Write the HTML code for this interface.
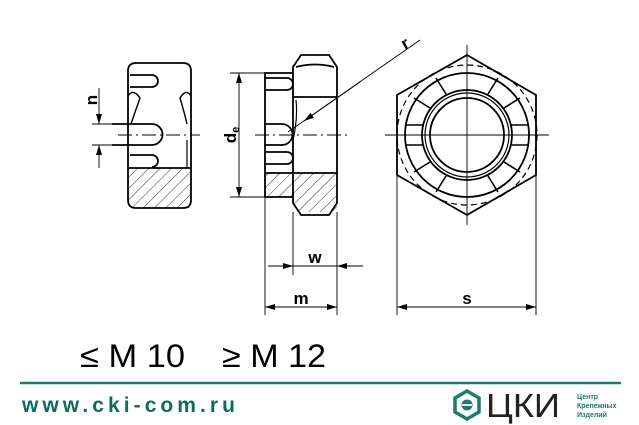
<!DOCTYPE html>
<html><head><meta charset="utf-8"><style>
html,body{margin:0;padding:0;background:#fff;width:639px;height:425px;overflow:hidden}
</style></head><body>
<svg width="639" height="425" viewBox="0 0 639 425" xmlns="http://www.w3.org/2000/svg" font-family="Liberation Sans, sans-serif">
<defs>
<pattern id="h" patternUnits="userSpaceOnUse" width="8" height="8" patternTransform="rotate(45)">
<line x1="0" y1="0" x2="0" y2="8" stroke="#000" stroke-width="0.8"/></pattern>
<marker id="a" markerWidth="10" markerHeight="6" refX="10" refY="3" orient="auto" markerUnits="userSpaceOnUse"><path d="M0,0 L10,3 L0,6 z" fill="#000"/></marker>
</defs>
<g fill="none" stroke="#000" stroke-width="1.8">
<rect x="128" y="168" width="62" height="40" fill="url(#h)" stroke="none"/>
<path d="M136,63 H183 Q191,63 191,71 V200 Q191,208 183,208 H136 Q128,208 128,200 V71 Q128,63 136,63 Z"/>
<path d="M128,96 Q133,88 140,98 Q134,115 131,124 M191,96 Q186,88 180,98 Q185,115 187,124" stroke-width="1.4"/>
<line x1="128" y1="168" x2="191" y2="168"/>
<line x1="187" y1="140" x2="187" y2="168" stroke-width="1.2"/>
<path d="M130,75 H152 A6,6 0 0 1 152,87 H130"/>
<path d="M112,124 H152 A10.5,10.5 0 0 1 152,145 H112"/>
<path d="M130,155 H152 A6,6 0 0 1 152,167"/>
<rect x="265" y="173" width="72" height="24" fill="url(#h)" stroke="none"/>
<rect x="293" y="197" width="44" height="15" fill="url(#h)" stroke="none"/>
<path d="M301,55 H329 L337,67 V203 L329,215 H301 L293,203 V67 Z"/>
<path d="M293,97 H337 M296,67 Q315,62 334,67"/>
<path d="M293,73 H265 V197 H293"/>
<line x1="265" y1="173" x2="337" y2="173"/>
<path d="M265,78 H287 A6,6 0 0 1 287,90 H265"/>
<path d="M265,124 H282 A10.5,10.5 0 0 1 282,145 H265"/>
<path d="M265,152 H287 A6,6 0 0 1 287,164 H265"/>
<path d="M293,140 Q298,118 296,100" stroke-width="1.2"/>
<polygon points="467,55 536,95 536,175 467,215 397,175 397,95"/>
<circle cx="467" cy="135" r="62"/>
<circle cx="467" cy="135" r="45"/>
<circle cx="467" cy="135" r="42" stroke-width="1.2"/>
<circle cx="467" cy="135" r="37"/>
<circle cx="467" cy="135" r="70" stroke-width="1.2" stroke-dasharray="6,4"/>
<g stroke-width="1.6">
<line x1="424" y1="125" x2="406" y2="125"/><line x1="424" y1="145" x2="406" y2="145"/>
<line x1="510" y1="125" x2="528" y2="125"/><line x1="510" y1="145" x2="528" y2="145"/>
<line x1="446" y1="94" x2="436" y2="78"/><line x1="488" y1="94" x2="498" y2="78"/>
<line x1="446" y1="176" x2="436" y2="192"/><line x1="488" y1="176" x2="498" y2="192"/>
<line x1="430" y1="108" x2="414" y2="98"/><line x1="504" y1="108" x2="520" y2="98"/>
<line x1="430" y1="162" x2="414" y2="172"/><line x1="504" y1="162" x2="520" y2="172"/>
</g>
</g>
<g stroke="#000" stroke-width="0.9" fill="none">
<line x1="118" y1="135" x2="200" y2="135" stroke-dasharray="14,4,2,4"/>
<line x1="255" y1="135" x2="347" y2="135" stroke-dasharray="14,4,2,4"/>
<line x1="385" y1="135" x2="549" y2="135"/>
<line x1="467" y1="45" x2="467" y2="225"/>
<line x1="92" y1="124" x2="128" y2="124"/><line x1="92" y1="145" x2="128" y2="145"/>
<line x1="99" y1="88" x2="99" y2="124" marker-end="url(#a)"/>
<line x1="99" y1="168" x2="99" y2="145" marker-end="url(#a)"/>
<line x1="230" y1="73" x2="265" y2="73"/><line x1="230" y1="197" x2="265" y2="197"/>
<line x1="239" y1="135" x2="239" y2="73" marker-end="url(#a)"/>
<line x1="239" y1="135" x2="239" y2="197" marker-end="url(#a)"/>
<line x1="420" y1="40" x2="288" y2="132"/>
<line x1="360" y1="82" x2="304" y2="121" marker-end="url(#a)"/>
<line x1="265" y1="197" x2="265" y2="315"/>
<line x1="293" y1="212" x2="293" y2="275"/>
<line x1="337" y1="212" x2="337" y2="315"/>
<line x1="397" y1="175" x2="397" y2="315"/>
<line x1="536" y1="175" x2="536" y2="315"/>
<line x1="268" y1="266" x2="293" y2="266" marker-end="url(#a)"/>
<line x1="363" y1="266" x2="337" y2="266" marker-end="url(#a)"/>
<line x1="293" y1="266" x2="337" y2="266"/>
<line x1="301" y1="307" x2="265" y2="307" marker-end="url(#a)"/>
<line x1="301" y1="307" x2="337" y2="307" marker-end="url(#a)"/>
<line x1="467" y1="307" x2="397" y2="307" marker-end="url(#a)"/>
<line x1="467" y1="307" x2="536" y2="307" marker-end="url(#a)"/>
</g>
<g font-size="17" font-weight="bold" fill="#000">
<text x="97" y="100" transform="rotate(-90 97 100)" text-anchor="middle">n</text>
<text x="236" y="135" transform="rotate(-90 236 135)" text-anchor="middle">d<tspan font-size="11" dy="3">e</tspan></text>
<text x="405" y="50" transform="rotate(-30 405 50)">r</text>
<text x="315" y="263" text-anchor="middle">w</text>
<text x="301" y="304" text-anchor="middle">m</text>
<text x="467" y="304" text-anchor="middle">s</text>
</g>
<text x="80" y="367" font-size="32" fill="#000" textLength="105" lengthAdjust="spacingAndGlyphs">≤ M 10</text>
<text x="222" y="367" font-size="32" fill="#000" textLength="104" lengthAdjust="spacingAndGlyphs">≥ M 12</text>
<line x1="20" y1="383" x2="621" y2="383" stroke="#1e7a6c" stroke-width="2.5"/>
<text x="22" y="412" font-size="21" font-weight="bold" fill="#0f6b5e" textLength="213" lengthAdjust="spacing">www.cki-com.ru</text>
<g>
<polygon points="467,391 479,398 479,412 467,419 455,412 455,398" fill="none" stroke="#1e7a6c" stroke-width="3.5"/>
<circle cx="467" cy="405" r="5.5" fill="#1e7a6c"/>
<line x1="462" y1="405" x2="472" y2="405" stroke="#fff" stroke-width="1.8"/>
<text x="486" y="417" font-size="33" fill="#222" textLength="74" lengthAdjust="spacingAndGlyphs">ЦКИ</text>
<text x="577" y="399" font-size="7" font-weight="bold" fill="#1e7a6c">Центр</text>
<text x="577" y="408" font-size="7" font-weight="bold" fill="#1e7a6c">Крепежных</text>
<text x="577" y="417" font-size="7" font-weight="bold" fill="#1e7a6c">Изделий</text>
</g>
</svg>
</body></html>
